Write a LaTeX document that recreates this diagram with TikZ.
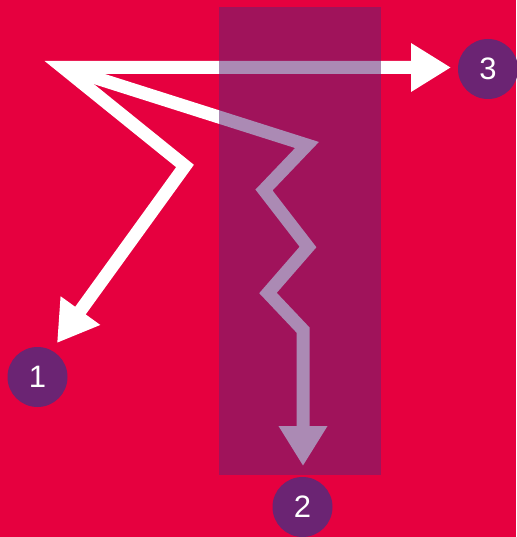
\documentclass[tikz,border=0pt]{standalone}
\usepackage{fontspec}
\setmainfont{Liberation Sans}
\usetikzlibrary{arrows.meta}
\definecolor{bgred}{RGB}{230,0,63}
\definecolor{plum}{RGB}{107,36,115}
\definecolor{band}{RGB}{99,36,116}
\tikzset{bigtip/.tip={Triangle[length=40pt,width=46pt]}}
\begin{document}
\begin{tikzpicture}[x=1pt,y=-1pt,
  flow/.style={draw=white, line width=13pt, line join=miter, miter limit=10},
  num/.style={circle, fill=plum, minimum size=60pt, inner sep=0pt, text=white,
    font=\fontsize{31}{31}\selectfont}]
\useasboundingbox (0,0) rectangle (516,537);
\fill[bgred] (0,0) rectangle (516,537);
% key points
\coordinate (o) at (63,67.5);
\coordinate (k1) at (185,166);
\coordinate (t1) at (57,343);
\coordinate (t3) at (451,67.5);
\coordinate (z1) at (307,145);
\coordinate (z2) at (264,190);
\coordinate (z3) at (308,247);
\coordinate (z4) at (268,293);
\coordinate (z5) at (303,330);
\coordinate (t2) at (303,466);
% arrows
\draw[flow,bigtip-bigtip] (t1) -- (k1) -- (o) -- (t3);
\draw[flow,-bigtip] (o) -- (z1) -- (z2) -- (z3) -- (z4) -- (z5) -- (t2);
% translucent band
\fill[band, opacity=0.533] (219,7) rectangle (381,475);
% numbered circles
\node[num] (c1) at (37.5,377) {1};
\node[num] (c2) at (302.5,507) {2};
\node[num] (c3) at (488,69) {3};
\end{tikzpicture}
\end{document}
